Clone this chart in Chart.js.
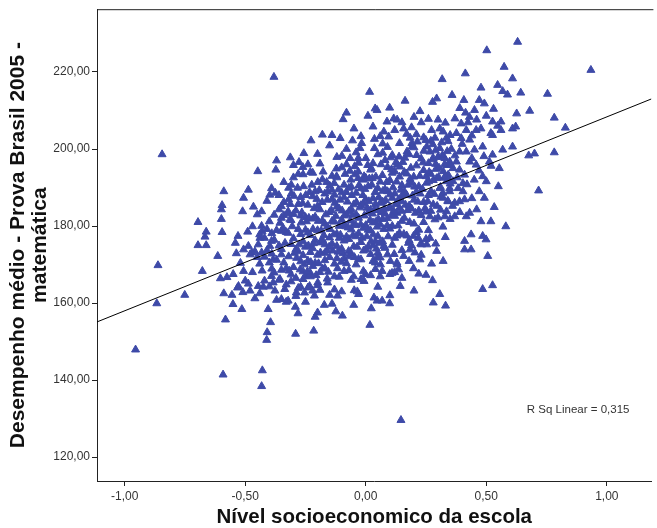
<!DOCTYPE html>
<html>
<head>
<meta charset="utf-8">
<script src="https://cdn.jsdelivr.net/npm/chart.js@4.4.0/dist/chart.umd.min.js"></script>
<style>
html,body{margin:0;padding:0;background:#fff;overflow:hidden}
#wrap{width:657px;height:528px}
</style>
</head>
<body>
<div id="wrap"><canvas id="myChart" width="657" height="528"></canvas></div>
<script>
// nivel socioeconomico (x) x desempenho medio (y)
let pontos=[
// pontos isolados / esquerda
[-0.955,147.9],[-0.592,141.4],[-0.845,198.6],[-0.862,169.8],[-0.867,159.9],[-0.751,162.1],
[-0.589,189.0],[-0.596,185.4],[-0.599,184.3],[-0.599,181.8],[-0.696,181.0],[-0.662,178.5],[-0.667,177.2],
[-0.596,178.4],[-0.696,175.0],[-0.662,175.0],[-0.541,175.6],[-0.537,172.9],[-0.614,172.2],[-0.678,168.3],
[-0.603,166.4],[-0.576,166.7],[-0.589,162.5],[-0.555,162.1],[-0.551,159.7],[-0.582,155.7],[-0.532,164.0],
// parte superior esquerda
[-0.381,218.7],[0.016,214.8],[0.039,210.5],[-0.080,209.4],[0.009,208.6],[-0.094,207.7],[-0.049,205.3],
[-0.140,203.6],[-0.106,202.8],[-0.227,202.2],[-0.055,202.2],[-0.017,201.5],[-0.024,200.2],[0.036,202.6],
[0.036,200.2],[-0.257,198.9],[-0.313,197.8],[-0.370,197.0],[-0.277,196.6],[-0.261,195.3],[-0.099,198.2],
[-0.065,197.6],[-0.031,197.6],[-0.373,194.6],[-0.448,194.2],[-0.046,195.5],[0.030,196.3],[0.023,195.0],
[-0.121,192.9],[-0.131,191.1],[-0.199,191.4],[-0.258,190.3],[-0.309,190.7],[-0.090,190.7],[-0.062,192.0],
[-0.032,192.4],[-0.007,192.9],[0.027,192.4],[-0.487,189.4],[-0.391,189.8],[-0.398,188.1],[-0.375,188.6],
[-0.309,188.4],[-0.507,187.3],[-0.466,185.0],[-0.432,183.8],[-0.511,183.8],[-0.350,185.1],[-0.322,183.8],
[-0.350,182.1],[-0.315,181.7],[-0.432,180.0],[-0.356,180.8],[-0.343,179.5],
// parte inferior esquerda
[-0.439,176.9],[-0.446,175.2],[-0.487,174.8],[-0.507,173.9],[-0.391,176.1],[-0.398,174.8],[-0.473,173.1],
[-0.432,173.1],[-0.507,168.3],[-0.384,171.3],[-0.350,172.6],[-0.528,164.4],[-0.487,165.0],[-0.480,163.2],
[-0.446,164.4],[-0.425,164.2],[-0.391,167.0],[-0.384,165.3],[-0.377,163.2],[-0.356,166.2],[-0.336,163.6],
[-0.350,161.0],[-0.322,160.6],[-0.514,158.4],[-0.405,158.4],[-0.395,155.0],[-0.409,152.4],[-0.411,150.4],
[-0.429,142.5],[-0.432,138.4],[-0.292,159.0],[-0.281,157.3],[-0.291,152.0],[-0.216,152.8],[-0.172,159.5],
[-0.254,162.7],[-0.288,162.7],[-0.213,161.9],[-0.233,164.4],[-0.199,165.3],[-0.158,165.3],[-0.117,161.9],
[-0.124,157.8],[-0.097,156.7],[-0.048,163.3],[-0.035,163.0],[0.034,161.4],[0.023,158.6],[0.017,154.3],
[-0.007,165.7],[-0.001,167.5],
// parte superior direita
[0.502,225.6],[0.574,221.3],[0.609,218.3],[0.413,219.6],[0.317,218.1],[0.478,215.9],[0.547,216.6],
[0.568,215.0],[0.588,214.1],[0.358,214.0],[0.407,212.7],[0.471,212.7],[0.492,211.8],[0.163,212.5],
[0.277,212.2],[0.294,213.1],[0.225,209.8],[0.099,210.7],[0.047,210.1],[0.414,209.4],[0.451,210.1],
[0.396,206.6],[0.424,206.9],[0.526,207.1],[0.561,207.1],[0.547,206.0],[0.088,207.1],[0.116,207.9],
[0.150,206.9],[0.157,205.3],[0.075,204.5],[0.095,203.2],[0.184,202.9],[0.191,201.5],[0.273,204.9],
[0.307,205.3],[0.321,204.5],[0.287,202.9],[0.335,202.9],[0.376,204.1],[0.396,202.8],[0.417,204.9],
[0.431,202.4],[0.458,204.9],[0.478,205.3],[0.519,204.1],[0.526,203.6],[0.561,204.9],[0.609,205.3],
[0.485,200.6],[0.451,199.8],[0.417,199.3],[0.389,199.3],[0.355,200.0],[0.568,199.8],[0.526,198.5],
[0.513,196.7],[0.609,200.6],[0.554,195.0],[0.485,192.9],[0.471,189.0],[0.492,187.3],[0.533,184.9],
[0.519,181.2],[0.478,181.2],[0.581,179.9],[0.417,182.5],[0.431,183.4],[0.369,182.5],[0.328,182.5],
[0.389,186.4],[0.369,186.0],[0.403,189.0],[0.348,189.0],[0.383,189.8],[0.362,191.6],[0.403,191.1],
[0.342,193.3],[0.431,196.7],[0.458,195.9],[0.376,196.7],[0.362,195.0],[0.389,194.6],[0.410,193.3],
[0.307,200.2],[0.301,198.0],[0.328,197.6],[0.348,196.7],[0.253,200.6],[0.266,199.3],[0.280,197.6],
[0.260,196.3],[0.321,194.2],[0.294,192.4],[0.335,191.6],[0.307,189.8],[0.348,189.8],[0.321,187.3],
[0.342,186.4],[0.335,183.8],[0.266,182.5],[0.287,181.7],
// parte inferior direita
[0.437,177.8],[0.485,177.4],[0.499,176.5],[0.410,176.1],[0.410,173.9],[0.437,173.9],[0.506,172.2],
[0.485,163.6],[0.526,164.6],[0.294,173.5],[0.321,170.9],[0.273,170.2],[0.225,171.3],[0.198,169.0],
[0.277,165.9],[0.307,162.3],[0.280,160.1],[0.331,159.3],[0.143,164.4],[0.047,160.6],[0.068,160.6],
[0.099,159.9],[0.146,129.6],[0.075,174.8],[0.047,171.8],[0.061,170.0],[0.102,170.9],[0.068,168.3],
[0.109,167.8],[0.136,168.7],[0.129,170.5],[0.157,172.2],[0.177,175.6],[0.198,177.4],[0.218,176.9],
[0.232,175.2],[0.253,175.2],[0.266,176.9],[0.184,173.9],[0.204,173.1],
// extremo direito
[0.630,227.8],[0.934,220.5],[0.754,214.3],[0.643,214.6],[0.680,209.9],[0.782,208.1],[0.828,205.5],
[0.782,199.1],[0.676,198.3],[0.700,198.8],[0.717,189.2],[0.622,205.8],[0.626,209.2],
// nucleo denso
[-0.34,186.2],[-0.33,178.4],[-0.32,172.1],[-0.31,181.5],[-0.30,169.3],[-0.30,176.8],[-0.29,184.0],
[-0.29,166.5],[-0.28,179.2],[-0.28,173.4],[-0.27,170.8],[-0.27,187.5],[-0.26,176.0],[-0.26,168.2],
[-0.25,182.3],[-0.25,174.6],[-0.34,170.5],[-0.33,164.8],[-0.32,189.9],[-0.31,175.3],[-0.30,192.6],
[-0.29,161.8],[-0.28,185.7],[-0.27,177.9],[-0.26,193.4],[-0.25,167.0],[-0.35,174.0],[-0.34,182.8],
[-0.33,169.0],[-0.31,167.4],[-0.30,183.1],[-0.29,173.9],[-0.28,163.9],[-0.27,182.7],[-0.26,172.4],
[-0.25,179.0],
[-0.24,171.0],[-0.24,185.5],[-0.23,177.6],[-0.23,167.8],[-0.22,181.9],[-0.22,174.2],[-0.21,189.0],
[-0.21,170.4],[-0.20,178.9],[-0.20,164.6],[-0.19,184.3],[-0.19,175.7],[-0.18,168.9],[-0.18,192.1],
[-0.17,180.6],[-0.17,173.0],[-0.16,186.8],[-0.16,166.3],[-0.15,177.0],[-0.15,183.6],[-0.24,178.3],
[-0.23,194.0],[-0.22,163.2],[-0.21,182.4],[-0.20,172.5],[-0.19,196.2],[-0.18,176.4],[-0.17,169.1],
[-0.16,179.8],[-0.15,171.9],[-0.24,164.0],[-0.22,187.7],[-0.20,185.2],[-0.18,181.4],[-0.16,173.6],
[-0.23,173.2],[-0.21,176.3],[-0.19,168.0],[-0.17,188.4],[-0.15,190.5],
[-0.14,175.4],[-0.14,186.9],[-0.13,170.2],[-0.13,181.1],[-0.12,178.0],[-0.12,192.6],[-0.11,166.8],
[-0.11,184.5],[-0.10,174.1],[-0.10,188.7],[-0.09,180.3],[-0.09,171.5],[-0.08,196.0],[-0.08,177.2],
[-0.07,183.8],[-0.07,168.5],[-0.06,179.1],[-0.06,190.2],[-0.05,174.7],[-0.05,185.6],[-0.14,181.3],
[-0.13,163.5],[-0.12,185.0],[-0.11,176.9],[-0.10,181.6],[-0.09,187.4],[-0.08,170.3],[-0.07,176.6],
[-0.06,184.4],[-0.05,166.9],[-0.14,193.0],[-0.12,171.6],[-0.10,195.2],[-0.08,183.0],[-0.06,172.8],
[-0.13,188.1],[-0.11,180.0],[-0.09,176.2],[-0.07,189.9],[-0.05,180.5],
[-0.04,177.3],[-0.04,188.6],[-0.03,182.1],[-0.03,171.4],[-0.02,185.4],[-0.02,175.8],[-0.01,192.0],
[-0.01,168.3],[0.00,180.2],[0.00,186.9],[0.01,174.6],[0.01,183.5],[0.02,178.8],[0.02,194.6],
[0.03,170.9],[0.03,187.2],[0.04,181.0],[0.04,176.0],[0.05,189.8],[0.05,184.1],[-0.04,183.0],
[-0.03,196.4],[-0.02,166.2],[-0.01,179.5],[0.00,174.0],[0.01,190.3],[0.02,172.7],[0.03,180.9],
[0.04,185.7],[0.05,177.4],[-0.04,170.0],[-0.02,189.8],[0.00,192.5],[0.02,184.2],[0.04,168.8],
[-0.03,178.1],[-0.01,185.9],[0.01,179.0],[0.03,175.0],[0.05,173.1],
[0.06,180.4],[0.06,191.5],[0.07,176.0],[0.07,186.3],[0.08,183.2],[0.08,197.1],[0.09,172.6],
[0.09,189.0],[0.10,179.3],[0.10,185.0],[0.11,193.8],[0.11,175.1],[0.12,182.6],[0.12,188.4],
[0.13,170.0],[0.13,195.9],[0.14,184.7],[0.14,178.2],[0.15,190.6],[0.15,181.3],[0.06,186.0],
[0.07,199.0],[0.08,174.3],[0.09,182.0],[0.10,191.9],[0.11,187.3],[0.12,176.9],[0.13,183.4],
[0.14,192.8],[0.15,173.7],[0.06,171.8],[0.08,189.5],[0.10,167.5],[0.12,194.2],[0.14,187.0],
[0.07,181.8],[0.09,195.3],[0.11,180.0],[0.13,177.5],[0.15,186.4],
[0.16,182.1],[0.16,194.0],[0.17,177.5],[0.17,188.0],[0.18,185.3],[0.18,198.6],[0.19,174.9],
[0.19,191.2],[0.20,180.6],[0.20,186.8],[0.21,195.7],[0.21,178.4],[0.22,184.0],[0.22,190.3],
[0.23,172.5],[0.23,197.5],[0.24,186.2],[0.24,181.0],[0.25,192.9],[0.25,183.7],[0.16,189.0],
[0.18,176.3],[0.20,200.4],[0.22,179.0],[0.24,194.5],[0.17,193.6],[0.19,184.5],[0.21,188.9],
[0.23,182.8],[0.25,176.6],
[0.26,188.0],[0.27,193.5],[0.28,185.6],[0.29,196.1],[0.30,182.2],[0.31,190.1],[0.32,179.8],
[0.33,193.0],[0.34,186.5],[0.35,181.8],[0.26,178.9],[0.28,191.9],[0.30,197.9],[0.32,188.6],
[0.34,195.8],[0.27,183.9],[0.29,175.4],[0.31,184.2],[0.33,177.1],[0.35,191.0],
[-0.44,170.2],[-0.43,178.6],[-0.42,165.8],[-0.41,173.7],[-0.40,181.2],[-0.39,168.9],[-0.38,176.4],
[-0.37,171.2],[-0.36,184.3],[-0.36,166.0],[-0.44,162.5],[-0.42,176.9],[-0.40,164.3],[-0.38,182.9],
[-0.37,160.8],[-0.41,186.5],[-0.39,172.8],[-0.35,168.6],
[-0.52,170.4],[-0.50,165.8],[-0.49,178.5],[-0.47,168.0],[-0.46,161.2],[-0.53,177.4],[-0.48,172.6],
[-0.45,183.0],[-0.55,167.5],[-0.51,162.8],
[-0.20,198.7],[-0.15,200.9],[-0.12,197.9],[-0.04,199.1],[0.06,203.3],[0.09,200.5],[0.12,204.9],
[0.03,205.8],[-0.18,203.7],
[-0.25,160.3],[-0.10,163.0],[0.05,164.2],[0.10,162.0],[-0.20,157.5],[0.15,166.5],[-0.05,159.5],
[0.20,163.2],[0.25,167.3],
// nucleo denso (complemento)
[-0.335,175.6],[-0.325,183.3],[-0.318,168.4],[-0.305,179.9],[-0.298,187.8],[-0.287,171.7],[-0.276,175.2],
[-0.268,180.9],[-0.262,185.9],[-0.255,170.0],[-0.246,181.2],[-0.238,174.9],[-0.233,188.8],[-0.228,170.6],
[-0.219,179.2],[-0.214,184.6],[-0.206,167.2],[-0.197,181.3],[-0.193,189.3],[-0.188,173.1],[-0.181,186.2],
[-0.174,177.6],[-0.166,183.0],[-0.162,191.4],[-0.155,168.1],[-0.148,179.2],[-0.143,184.1],[-0.137,173.6],
[-0.128,186.0],[-0.124,182.6],[-0.117,169.0],[-0.113,189.5],[-0.105,177.7],[-0.098,184.0],[-0.094,172.9],
[-0.086,193.5],[-0.083,179.9],[-0.076,186.3],[-0.071,173.5],[-0.064,181.4],[-0.058,188.0],[-0.053,177.6],
[-0.045,193.4],[-0.041,180.2],[-0.036,174.6],[-0.028,190.6],[-0.024,184.8],[-0.015,176.9],[-0.012,188.0],
[-0.006,182.7],[0.004,177.3],[0.008,195.8],[0.013,186.4],[0.018,181.5],[0.025,190.7],[0.031,177.8],
[0.036,184.3],[0.042,192.8],[0.047,179.8],[0.054,187.5],[0.058,175.6],[0.064,183.6],[0.069,193.2],
[0.075,179.2],[0.082,186.7],[0.087,191.4],[0.093,177.3],[0.097,184.6],[0.104,197.8],[0.108,182.8],
[0.113,190.0],[0.118,172.7],[0.124,185.7],[0.128,191.5],[0.134,180.1],[0.138,198.0],[0.145,189.4],
[0.149,183.9],[0.154,196.6],[0.158,177.9],[0.165,185.5],[0.171,199.3],[0.176,190.7],[0.182,181.0],
[0.187,195.1],[0.194,187.9],[0.199,192.8],[0.206,183.4],[0.211,198.4],[0.216,186.3],[0.224,193.0],
[0.228,175.4],[0.235,189.6],[0.241,199.5],[0.246,184.6],[0.252,191.2],[0.257,186.4],[0.263,194.0],
[0.271,189.0],[0.278,201.2],[0.284,188.3],[0.291,194.8],[0.296,185.2],[0.304,195.1],[0.312,187.6],
[0.318,198.4],[0.326,192.5],[0.338,199.4],[0.344,192.3],
[0.19,205.6],[0.21,203.8],[0.23,206.9],[0.24,203.0],[0.26,207.8],[0.27,202.1],[0.30,207.6],
[0.33,206.8],[0.35,203.6],[0.37,207.9],[0.39,210.6],[0.43,208.3],[0.44,203.5],[0.46,207.6],
[0.50,208.6],[0.53,210.4],[0.49,198.1],[0.44,197.6],[0.40,201.3],[0.37,198.3],[0.14,201.5],
[0.17,203.9],[0.11,198.4],[0.05,198.6],[0.00,197.6],[-0.08,200.0],[-0.02,203.3],[0.07,201.4],
[0.13,207.6],[0.20,208.3],
[-0.31,165.6],[-0.27,164.2],[-0.23,166.9],[-0.19,163.4],[-0.15,162.1],[-0.13,166.9],[-0.09,168.3],
[-0.06,166.0],[-0.03,162.3],[0.02,167.2],[0.06,166.9],[0.12,168.0],[0.18,170.9],[0.22,167.6],
[0.04,170.5],[-0.02,171.3],[-0.07,172.1],[-0.12,174.8],[-0.17,171.1],[-0.22,169.6],[-0.26,166.2],
[-0.33,160.3],[-0.21,156.4],[-0.14,159.8],
[-0.43,168.4],[-0.42,172.0],[-0.41,179.2],[-0.40,170.5],[-0.39,178.1],[-0.38,167.9],[-0.37,178.9],
[-0.36,174.9],[-0.45,171.9],[-0.44,177.8],[-0.46,173.4],[-0.47,179.9],[-0.35,178.7],[-0.36,188.0],
[-0.34,191.4],[-0.32,186.9],[-0.30,195.8],[-0.28,193.5],[-0.24,196.0],[-0.22,193.8],
[0.36,185.2],[0.38,192.6],[0.39,183.6],[0.41,186.9],[0.42,190.8],[0.44,187.2],[0.45,192.0],
[0.46,184.3],[0.47,194.4],[0.50,191.6],[0.52,195.6],[0.55,190.3],
// preenchimento adicional do nucleo
[-0.322,178.2],[-0.313,185.7],[-0.296,173.0],[-0.283,189.9],[-0.272,168.7],[-0.265,183.5],[-0.249,188.0],
[-0.242,168.2],[-0.236,182.1],[-0.224,190.7],[-0.217,175.5],[-0.203,187.0],[-0.196,170.3],[-0.185,178.8],
[-0.177,194.1],[-0.169,175.2],[-0.158,188.9],[-0.152,174.6],[-0.141,189.4],[-0.133,177.8],[-0.122,194.9],
[-0.115,173.3],[-0.107,186.8],[-0.101,170.7],[-0.089,182.7],[-0.081,188.8],[-0.073,179.6],[-0.066,194.3],
[-0.055,182.9],[-0.047,171.9],[-0.039,186.2],[-0.031,194.1],[-0.021,180.4],[-0.009,173.6],[-0.004,189.6],
[0.006,184.7],[0.015,192.3],[0.022,176.0],[0.028,183.2],[0.039,188.8],[0.044,174.1],[0.052,181.8],
[0.063,196.0],[0.071,189.1],[0.078,184.5],[0.089,180.1],[0.101,188.2],[0.107,194.7],[0.116,183.9],
[0.126,196.6],[0.133,186.6],[0.142,195.4],[0.153,188.0],[0.162,197.7],[0.173,184.1],[0.184,192.2],
[0.192,200.6],[0.203,190.2],[0.214,201.9],[0.226,188.4],[0.238,196.5],[0.249,202.3],[0.261,191.6],
[0.276,197.3],[0.289,199.6],[0.302,192.7],[0.315,201.7],[0.327,196.0],[0.341,202.0],[0.353,195.8]
];

// reta de ajuste linear (extremos)
let linhaAjuste=[[-1.115,155.1],[1.185,213.0]];

let ticksX=[-1,-0.5,0,0.5,1];
let ticksY=[120,140,160,180,200,220];
let rotuloR2="R Sq Linear = 0,315";

function virgula(v){
    return v.toFixed(2).replace('.',',');
}

// moldura superior + texto do R2
const extras={
    id:'extras',
    afterDraw(chart){
        const ctx=chart.ctx, a=chart.chartArea;
        ctx.save();
        ctx.strokeStyle='#222';
        ctx.lineWidth=1;
        ctx.beginPath();
        ctx.moveTo(a.left,a.top+0.5);
        ctx.lineTo(a.right+2,a.top+0.5);
        ctx.stroke();
        const sx=chart.scales.x, sy=chart.scales.y;
        ctx.fillStyle='#333';
        ctx.font='11.5px "Liberation Sans", Arial, sans-serif';
        ctx.textAlign='center';
        ctx.textBaseline='middle';
        ctx.fillText(rotuloR2,sx.getPixelForValue(0.881),sy.getPixelForValue(132.4));
        ctx.restore();
    }
};

let ctx=document.getElementById('myChart').getContext('2d');
let myChart=new Chart(ctx,{
    type:'scatter',
    data:{
        datasets:[{
            type:'line',
            data:linhaAjuste.map(p=>({x:p[0],y:p[1]})),
            borderColor:'#000',
            borderWidth:1,
            pointRadius:0,
            fill:false,
            order:0
        },{
            data:pontos.map(p=>({x:p[0],y:p[1]})),
            pointStyle:'triangle',
            pointRadius:4.6,
            backgroundColor:'rgb(62,74,168)',
            borderColor:'rgb(62,74,168)',
            borderWidth:1,
            order:1
        }]
    },
    options:{
        responsive:false,
        animation:false,
        layout:{padding:{top:7,right:0,left:0,bottom:0}},
        plugins:{legend:{display:false},tooltip:{enabled:false}},
        scales:{
            x:{
                type:'linear',
                min:-1.115,max:1.185,
                afterBuildTicks:s=>{s.ticks=ticksX.map(v=>({value:v}))},
                afterFit:s=>{s.height=47},
                grid:{drawOnChartArea:false,drawTicks:true,tickLength:5,color:'#222'},
                border:{color:'#222',width:1},
                ticks:{callback:v=>virgula(v),color:'#333',padding:3,maxRotation:0,
                    font:{family:'"Liberation Sans", Arial, sans-serif',size:12}},
                title:{display:true,text:'Nível socioeconomico da escola',color:'#111',
                    padding:{top:0,bottom:0},
                    font:{family:'"Liberation Sans", Arial, sans-serif',size:20.5,weight:'bold',lineHeight:1.0}}
            },
            y:{
                type:'linear',
                min:113.8,max:236.3,
                afterBuildTicks:s=>{s.ticks=ticksY.map(v=>({value:v}))},
                afterFit:s=>{s.width=97},
                grid:{drawOnChartArea:false,drawTicks:true,tickLength:5,color:'#222'},
                border:{color:'#222',width:1},
                ticks:{callback:v=>virgula(v),color:'#333',padding:2,
                    font:{family:'"Liberation Sans", Arial, sans-serif',size:12}},
                title:{display:true,text:['Desempenho médio - Prova Brasil 2005 -','matemática'],color:'#111',
                    padding:{top:7,bottom:0},
                    font:{family:'"Liberation Sans", Arial, sans-serif',size:21,weight:'bold',lineHeight:1.05}}
            }
        }
    },
    plugins:[extras]
});
</script>
</body>
</html>
